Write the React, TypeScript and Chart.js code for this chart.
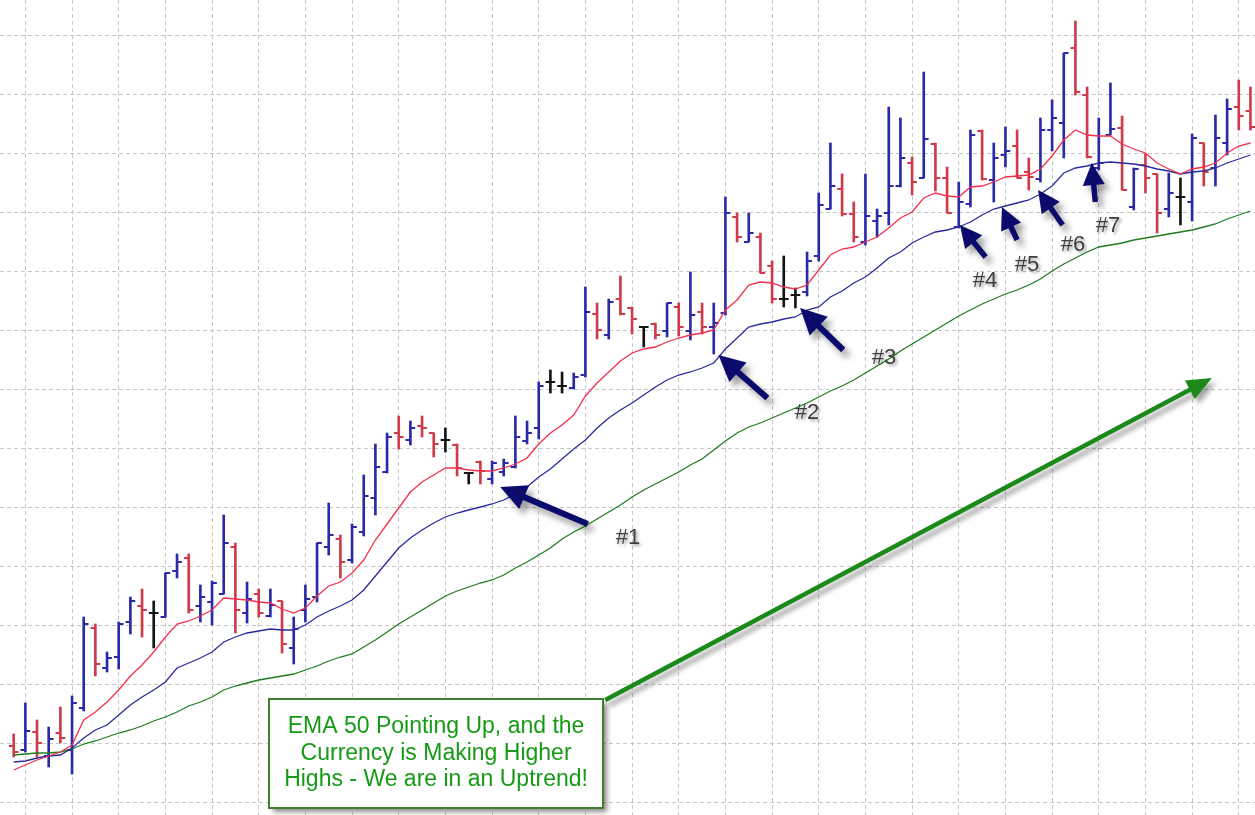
import React, { useEffect, useRef } from 'react';
import { Chart, registerables } from 'chart.js';

Chart.register(...registerables);

// ---- OHLC data (one entry per bar, price units) ----
const opens = [
  69, 65, 83, 59, 82, 65, 107, 187, 147, 158,
  193, 209, 202, 198, 244, 257, 209, 213, 221, 268,
  202, 221, 199, 214, 167, 205, 218, 268, 276, 255,
  283, 317, 343, 382, 375, 389, 382, 375, 370, 342,
  353, 336, 343, 348, 374, 387, 433, 429, 427, 440,
  501, 480, 516, 507, 488, 491, 484, 508, 484, 503,
  488, 502, 598, 573, 578, 549, 516, 520, 523, 559,
  606, 626, 601, 573, 594, 602, 629, 652, 637, 671,
  637, 588, 611, 684, 635, 660, 669, 643, 636, 685,
  692, 767, 720, 647, 680, 687, 608, 650, 641, 606,
  618, 613, 672, 647, 672, 708, 704,
];
const highs = [
  81, 112, 95, 88, 108, 119, 198, 191, 163, 193,
  218, 226, 214, 242, 261, 261, 230, 234, 300, 272,
  233, 226, 226, 214, 198, 230, 272, 312, 280, 291,
  340, 371, 382, 399, 394, 399, 382, 387, 371, 342,
  354, 354, 356, 399, 394, 433, 445, 443, 442, 528,
  512, 516, 539, 508, 488, 492, 512, 512, 543, 512,
  512, 618, 602, 602, 582, 554, 559, 527, 563, 622,
  672, 641, 613, 641, 606, 708, 697, 658, 743, 672,
  648, 633, 685, 685, 672, 688, 685, 657, 697, 715,
  762, 794, 728, 697, 732, 699, 647, 661, 641, 642,
  637, 681, 672, 700, 716, 735, 728,
];
const lows = [
  58, 63, 58, 48, 72, 41, 104, 139, 143, 146,
  181, 178, 167, 198, 237, 202, 193, 190, 221, 182,
  192, 198, 198, 162, 151, 193, 213, 260, 237, 252,
  279, 300, 342, 366, 370, 378, 358, 363, 339, 331,
  331, 331, 339, 347, 371, 376, 422, 422, 426, 438,
  476, 476, 500, 481, 468, 476, 478, 479, 475, 481,
  461, 500, 573, 573, 542, 512, 508, 507, 519, 554,
  606, 599, 573, 570, 578, 590, 628, 620, 637, 624,
  602, 587, 608, 635, 613, 648, 637, 625, 633, 664,
  657, 720, 657, 645, 680, 625, 605, 622, 582, 598,
  590, 594, 629, 629, 660, 685, 685,
];
const closes = [
  63, 84, 72, 76, 77, 112, 191, 151, 157, 191,
  214, 205, 202, 242, 253, 205, 218, 232, 272, 205,
  216, 202, 210, 171, 186, 216, 272, 280, 253, 288,
  319, 348, 378, 378, 387, 387, 371, 375, 347, 342,
  344, 352, 352, 378, 382, 429, 433, 429, 438, 503,
  485, 513, 501, 496, 488, 480, 512, 488, 500, 488,
  492, 602, 578, 582, 542, 516, 516, 520, 554, 610,
  629, 601, 578, 599, 599, 629, 657, 633, 676, 637,
  602, 613, 680, 636, 657, 664, 637, 638, 685, 697,
  762, 723, 658, 652, 686, 625, 646, 637, 602, 622,
  618, 677, 643, 677, 706, 699, 688,
];

// ---- Moving averages (red = fast EMA, blue = medium EMA, green = EMA 50) ----
const emaFast = [
  45, 50, 55, 59, 63, 70, 95, 103, 113, 125,
  139, 150, 163, 178, 191, 194, 199, 205, 217, 216,
  215, 213, 212, 206, 202, 207, 219, 229, 233, 242,
  255, 275, 291, 307, 323, 333, 340, 347, 347, 345,
  344, 344, 347, 351, 357, 371, 382, 390, 400, 419,
  432, 443, 454, 462, 466, 468, 473, 477, 480, 482,
  485, 505, 515, 530, 533, 532, 528, 526, 530, 545,
  560, 566, 568, 573, 578, 587, 597, 603, 617, 622,
  619, 618, 628, 629, 633, 638, 639, 640, 646, 659,
  675, 685, 680, 679, 679, 671, 666, 662, 652, 646,
  641, 646, 648, 652, 662, 669, 672,
];
const emaMid = [
  53, 54, 57, 59, 60, 67, 77, 85, 90, 100,
  110, 118, 125, 133, 147, 152, 157, 163, 173, 178,
  182, 184, 186, 185, 185, 190, 198, 204, 209, 215,
  225, 239, 253, 267, 277, 285, 292, 298, 302, 305,
  308, 311, 315, 321, 328, 338, 346, 356, 366, 375,
  387, 397, 405, 412, 420, 428, 435, 440, 443, 447,
  452, 466, 477, 488, 491, 493, 496, 498, 505, 508,
  518, 524, 532, 538, 547, 557, 563, 572, 578, 583,
  585, 588, 593, 600, 606, 609, 612, 615, 621, 629,
  642, 647, 649, 652, 653, 652, 651, 649, 646, 644,
  641, 643, 644, 647, 652, 656, 660,
];
const ema50 = [
  60, 61, 62, 62, 63, 66, 71, 74, 78, 82,
  85, 89, 94, 98, 103, 109, 113, 118, 125, 129,
  132, 135, 137, 139, 141, 145, 149, 154, 158, 161,
  168, 175, 183, 191, 198, 205, 212, 219, 224, 228,
  232, 235, 240, 247, 253, 260, 267, 276, 283, 289,
  296, 303, 310, 318, 325, 331, 337, 343, 350, 356,
  365, 374, 382, 388, 392, 397, 402, 407, 412, 418,
  424, 429, 435, 442, 449, 456, 464, 471, 478, 485,
  492, 499, 505, 511, 516, 521, 525, 530, 536, 544,
  551, 557, 563, 568, 570, 572, 575, 577, 579, 581,
  583, 585, 588, 591, 596, 600, 604,
];

// ---- grid levels (no tick labels shown) ----
const xGridLevels = [1, 5, 9, 13, 17, 21, 25, 29, 33, 37, 41, 45, 49, 53, 57, 61, 65, 69, 73, 77, 81, 85, 89, 93, 97, 101, 105];
const yGridLevels = [12.5, 71.5, 130.5, 189.5, 248.5, 307.5, 366.5, 425.5, 484.5, 543.5, 602.5, 661.5, 720.5, 779.5];

// ---- annotation texts ----
const arrowLabels = ['#1', '#2', '#3', '#4', '#5', '#6', '#7'];
const boxLines = ['EMA 50 Pointing Up, and the', 'Currency is Making Higher', 'Highs - We are in an Uptrend!'];

// annotation placement in data coordinates [tailX, tailY, tipX, tipY]
const navyArrows: number[][] = [
  [49.2, 291, 41.7, 328],
  [64.6, 417, 60.4, 460],
  [71.1, 465, 67.4, 507],
  [83.3, 558, 81.1, 590],
  [86.0, 575, 84.7, 608],
  [89.9, 590, 87.8, 625],
  [92.7, 613, 92.4, 652],
];
const labelAnchors: number[][] = [
  [52.65, 277], [68.0, 402], [74.6, 457], [83.25, 534], [86.85, 550], [90.8, 570], [93.8, 589],
];
const greenArrow = [50.7, 115, 102.7, 437];
const boxCenter = [36.2, 61.2];

const BULL = '#2a2aa8';
const BEAR = '#cf3b4b';
const DOJI = '#151515';
const RED_LINE = '#f2304e';
const BLUE_LINE = '#2b2b9c';
const GREEN_LINE = '#1f7d1f';
const GRID = '#c6c6c6';
const TICK_OFFSET = 0.2;

function arrowPath(ctx: CanvasRenderingContext2D, x1: number, y1: number, x2: number, y2: number, shaft: number, headLen: number, headW: number) {
  const dx = x2 - x1, dy = y2 - y1;
  const len = Math.hypot(dx, dy);
  const ux = dx / len, uy = dy / len;
  const nx = -uy, ny = ux;
  const bx = x2 - ux * headLen, by = y2 - uy * headLen;
  ctx.beginPath();
  ctx.moveTo(x1 + nx * shaft / 2, y1 + ny * shaft / 2);
  ctx.lineTo(bx + nx * shaft / 2, by + ny * shaft / 2);
  ctx.lineTo(bx + nx * headW / 2, by + ny * headW / 2);
  ctx.lineTo(x2, y2);
  ctx.lineTo(bx - nx * headW / 2, by - ny * headW / 2);
  ctx.lineTo(bx - nx * shaft / 2, by - ny * shaft / 2);
  ctx.lineTo(x1 - nx * shaft / 2, y1 - ny * shaft / 2);
  ctx.closePath();
  ctx.fill();
}

const annotationPlugin = {
  id: 'annotations',
  afterDraw(chart: any) {
    const ctx: CanvasRenderingContext2D = chart.ctx;
    const xs = chart.scales.x, ys = chart.scales.y;
    const px = (v: number) => xs.getPixelForValue(v);
    const py = (v: number) => ys.getPixelForValue(v);
    ctx.save();

    // navy arrows
    ctx.shadowColor = 'rgba(0,0,0,0.38)';
    ctx.shadowBlur = 6;
    ctx.shadowOffsetX = 5;
    ctx.shadowOffsetY = 6;
    ctx.fillStyle = '#0b0b6e';
    navyArrows.forEach((a, k) => {
      const big = k < 3;
      arrowPath(ctx, px(a[0]), py(a[1]), px(a[2]), py(a[3]), big ? 6 : 5.5, big ? 26 : 22, big ? 26 : 22);
    });

    // labels
    ctx.shadowColor = 'rgba(0,0,0,0.35)';
    ctx.shadowBlur = 3;
    ctx.shadowOffsetX = 2;
    ctx.shadowOffsetY = 2;
    ctx.fillStyle = '#3d3d3d';
    ctx.font = '22px Arial, "Liberation Sans", sans-serif';
    ctx.textAlign = 'center';
    ctx.textBaseline = 'middle';
    arrowLabels.forEach((t, k) => {
      ctx.fillText(t, px(labelAnchors[k][0]), py(labelAnchors[k][1]));
    });

    // green arrow
    ctx.shadowColor = 'rgba(0,0,0,0.35)';
    ctx.shadowBlur = 5;
    ctx.shadowOffsetX = 4;
    ctx.shadowOffsetY = 5;
    ctx.fillStyle = '#1b8a1b';
    arrowPath(ctx, px(greenArrow[0]), py(greenArrow[1]), px(greenArrow[2]), py(greenArrow[3]), 4.5, 25, 21);

    // text box
    const cx = px(boxCenter[0]), cy = py(boxCenter[1]);
    const bw = 334, bh = 109;
    const bx = Math.round(cx - bw / 2), by = Math.round(cy - bh / 2);
    ctx.shadowColor = 'rgba(0,0,0,0.45)';
    ctx.shadowBlur = 5;
    ctx.shadowOffsetX = 4;
    ctx.shadowOffsetY = 4;
    ctx.fillStyle = '#ffffff';
    ctx.fillRect(bx, by, bw, bh);
    ctx.shadowColor = 'transparent';
    ctx.shadowBlur = 0;
    ctx.shadowOffsetX = 0;
    ctx.shadowOffsetY = 0;
    ctx.strokeStyle = '#3f7f2f';
    ctx.lineWidth = 2;
    ctx.strokeRect(bx, by, bw, bh);
    ctx.fillStyle = '#169a16';
    ctx.font = '23px Arial, "Liberation Sans", sans-serif';
    boxLines.forEach((t, k) => {
      ctx.fillText(t, cx, cy - 27 + k * 26.5);
    });
    ctx.restore();
  },
};

export default function App() {
  const ref = useRef<HTMLCanvasElement>(null);
  useEffect(() => {
    document.body.style.margin = '0';
    const idx = opens.map((_, i) => i);
    const colors = idx.map((i) => (closes[i] > opens[i] ? BULL : closes[i] < opens[i] ? BEAR : DOJI));
    const xScale = {
      type: 'linear',
      min: -1.174,
      max: 106.39,
      offset: false,
      afterBuildTicks: (s: any) => { s.ticks = xGridLevels.map((v) => ({ value: v })); },
      ticks: { display: false },
      grid: { color: GRID, drawTicks: false, offset: false, lineWidth: 1 },
      border: { display: false, dash: [4, 3] },
    };
    const yScale = {
      type: 'linear',
      min: 0,
      max: 815,
      afterBuildTicks: (s: any) => { s.ticks = yGridLevels.map((v) => ({ value: v })); },
      ticks: { display: false },
      grid: { color: GRID, drawTicks: false, lineWidth: 1 },
      border: { display: false, dash: [4, 3] },
    };
    const chart = new Chart(ref.current as HTMLCanvasElement, {
      type: 'bar',
      data: {
        datasets: [
          {
            type: 'line', label: 'EMA fast', data: idx.map((i) => ({ x: i, y: emaFast[i] })),
            borderColor: RED_LINE, borderWidth: 1.3, pointRadius: 0, tension: 0, order: 1,
          },
          {
            type: 'line', label: 'EMA medium', data: idx.map((i) => ({ x: i, y: emaMid[i] })),
            borderColor: BLUE_LINE, borderWidth: 1.3, pointRadius: 0, tension: 0, order: 1,
          },
          {
            type: 'line', label: 'EMA 50', data: idx.map((i) => ({ x: i, y: ema50[i] })),
            borderColor: GREEN_LINE, borderWidth: 1.3, pointRadius: 0, tension: 0, order: 1,
          },
          {
            type: 'bar', label: 'High-Low', data: idx.map((i) => ({ x: i, y: [lows[i], highs[i]] })),
            backgroundColor: colors, borderWidth: 0, barThickness: 2, order: 5,
          },
          {
            type: 'scatter', label: 'Open', data: idx.map((i) => ({ x: i - TICK_OFFSET, y: opens[i] })),
            pointStyle: 'line', pointRadius: 2.5, pointBorderColor: colors, borderColor: colors,
            pointBorderWidth: 2, pointBackgroundColor: colors, order: 4,
          },
          {
            type: 'scatter', label: 'Close', data: idx.map((i) => ({ x: i + TICK_OFFSET, y: closes[i] })),
            pointStyle: 'line', pointRadius: 2.5, pointBorderColor: colors, borderColor: colors,
            pointBorderWidth: 2, pointBackgroundColor: colors, order: 4,
          },
        ],
      } as any,
      options: {
        responsive: false,
        animation: false,
        devicePixelRatio: 1,
        events: [],
        layout: { padding: 0, autoPadding: false },
        plugins: { legend: { display: false }, tooltip: { enabled: false } },
        scales: { x: xScale, y: yScale } as any,
      },
      plugins: [annotationPlugin],
    } as any);
    return () => chart.destroy();
  }, []);
  return <canvas ref={ref} width={1255} height={815} style={{ display: 'block' }} />;
}
